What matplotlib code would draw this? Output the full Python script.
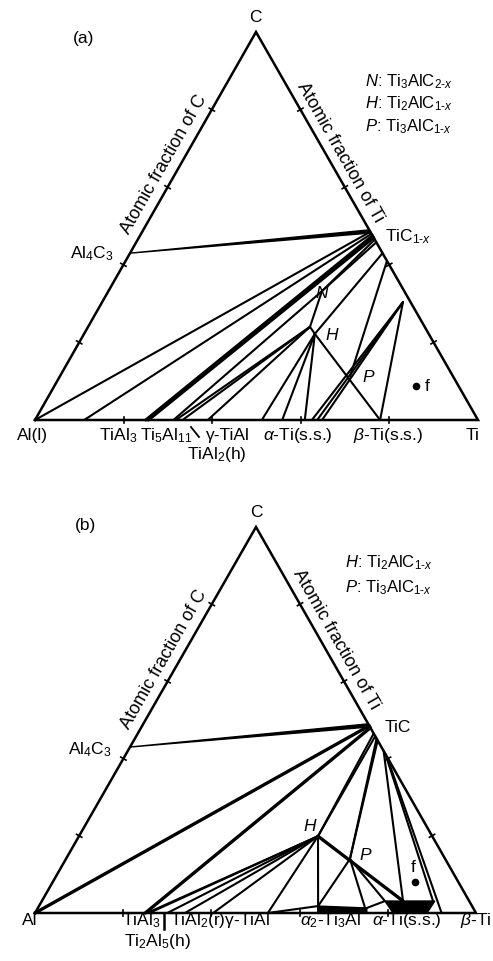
import matplotlib
matplotlib.use("Agg")
import matplotlib.pyplot as plt
from matplotlib.patches import Polygon
import numpy as np

plt.rcParams['font.family'] = ['Liberation Sans', 'DejaVu Sans']
plt.rcParams['mathtext.fontset'] = 'custom'
plt.rcParams['mathtext.rm'] = 'Liberation Sans'
plt.rcParams['mathtext.it'] = 'Liberation Sans:italic'
plt.rcParams['mathtext.bf'] = 'Liberation Sans:bold'

# ---------------- compositions (x_Ti, x_C) ----------------
# panel (a)
a_wedge = [(0.0, 0.43), (0.51, 0.49), (0.518, 0.482)]          # Al4C3 + TiC
a_thin = [
    [(0.0, 0.0), (0.515, 0.485)],
    [(0.111, 0.0), (0.52, 0.48)],
    [(0.3125, 0.0), (0.482, 0.332)],
    [(0.318, 0.0), (0.501, 0.24)],
    [(0.333, 0.0), (0.501, 0.24)],
    [(0.39, 0.0), (0.501, 0.24)],
    [(0.482, 0.332), (0.535, 0.465)],
    [(0.482, 0.332), (0.542, 0.458)],
    [(0.482, 0.332), (0.501, 0.24)],
    [(0.501, 0.24), (0.521, 0.222)],
    [(0.521, 0.222), (0.57, 0.43)],
    [(0.521, 0.222), (0.512, 0.0)],
    [(0.521, 0.222), (0.558, 0.0)],
    [(0.521, 0.222), (0.609, 0.0)],
    [(0.521, 0.222), (0.779, 0.0)],
    [(0.59, 0.41), (0.655, 0.113)],
    [(0.625, 0.0), (0.679, 0.304)],
    [(0.637, 0.0), (0.679, 0.304)],
    [(0.648, 0.0), (0.679, 0.304)],
    [(0.679, 0.304), (0.779, 0.0)],
]
a_thick = [
    [(0.25, 0.0), (0.525, 0.475)],
    [(0.256, 0.0), (0.53, 0.47)],
]
a_point_f = (0.816, 0.088)

# panel (b)
b_wedge = [(0.0, 0.43), (0.51, 0.49), (0.518, 0.482)]
b_thick = [
    [(0.0, 0.0), (0.515, 0.485)],
    [(0.25, 0.0), (0.52, 0.48)],
    [(0.542, 0.199), (0.819, 0.031)],
]
b_thin = [
    [(0.254, 0.0), (0.542, 0.199)],
    [(0.259, 0.0), (0.542, 0.199)],
    [(0.30, 0.0), (0.542, 0.199)],
    [(0.34, 0.0), (0.542, 0.199)],
    [(0.404, 0.0), (0.542, 0.199)],
    [(0.528, 0.0), (0.542, 0.199)],
    [(0.542, 0.199), (0.535, 0.465)],
    [(0.542, 0.199), (0.542, 0.458)],
    [(0.542, 0.199), (0.642, 0.0)],
    [(0.633, 0.018), (0.644, 0.14)],
    [(0.644, 0.14), (0.548, 0.452)],
    [(0.644, 0.14), (0.553, 0.447)],
    [(0.644, 0.14), (0.752, 0.0)],
    [(0.644, 0.14), (0.778, 0.031)],
    [(0.58, 0.42), (0.819, 0.031)],
    [(0.588, 0.412), (0.887, 0.031)],
    [(0.595, 0.405), (0.922, 0.0)],
    [(0.528, 0.0), (0.633, 0.018)],
    [(0.746, 0.013), (0.778, 0.031)],
]
b_alpha2 = [(0.633, 0.018), (0.746, 0.013), (0.752, 0.0), (0.641, 0.0)]
b_alpha = [(0.778, 0.031), (0.891, 0.031), (0.889, 0.0), (0.812, 0.0)]
b_point_f = (0.821, 0.08)

edge_ticks = [0.2, 0.4, 0.6, 0.8]

# ---------------- drawing ----------------
fig = plt.figure(figsize=(4.93, 9.62), dpi=100)
ax = fig.add_axes([0, 0, 1, 1])
ax.set_xlim(0, 493)
ax.set_ylim(962, 0)
ax.axis('off')

# triangle corners (Al, Ti, C) in canvas units
tri_a = np.array([[35, 421], [478, 421], [256, 33]], float)
tri_b = np.array([[35, 914], [476, 914], [256, 528]], float)


def to_xy(tri, comp):
    t, c = comp
    return tri[0] + t * (tri[1] - tri[0]) + c * (tri[2] - tri[0])


def draw_frame(tri):
    poly = np.vstack([tri, tri[:1]])
    ax.plot(poly[:, 0], poly[:, 1], color='black', lw=1.8,
            solid_joinstyle='miter', zorder=3)
    for i in range(3):
        p, q = tri[i], tri[(i + 1) % 3]
        d = (q - p) / np.linalg.norm(q - p)
        n = np.array([-d[1], d[0]])
        for f in edge_ticks:
            m = p + f * (q - p)
            s = np.vstack([m - 3 * n, m + 3 * n])
            ax.plot(s[:, 0], s[:, 1], color='black', lw=1.2, zorder=3)


def draw_segments(tri, segs, lw):
    for a, b in segs:
        p, q = to_xy(tri, a), to_xy(tri, b)
        ax.plot([p[0], q[0]], [p[1], q[1]], color='black', lw=lw,
                solid_capstyle='round', zorder=2)


def draw_fill(tri, pts):
    xy = np.array([to_xy(tri, p) for p in pts])
    ax.add_patch(Polygon(xy, closed=True, facecolor='black',
                         edgecolor='black', lw=1.0, zorder=2))


# panel (a)
draw_frame(tri_a)
draw_fill(tri_a, a_wedge)
draw_segments(tri_a, a_thin, 1.5)
draw_segments(tri_a, a_thick, 2.2)
fx, fy = to_xy(tri_a, a_point_f)
ax.plot(fx, fy, 'o', color='black', ms=4.5, zorder=4)

# panel (b)
draw_frame(tri_b)
draw_fill(tri_b, b_wedge)
draw_segments(tri_b, b_thin, 1.5)
draw_segments(tri_b, b_thick, 2.4)
draw_fill(tri_b, b_alpha2)
draw_fill(tri_b, b_alpha)
fx, fy = to_xy(tri_b, b_point_f)
ax.plot(fx, fy, 'o', color='black', ms=4.5, zorder=4)

# ---------------- text ----------------
fs = 12.5
ang = np.degrees(np.arctan2(388, 221))
sub1x = r'$_{1\text{-}x}$'
sub2x = r'$_{2\text{-}x}$'

# panel (a)
ax.text(84, 38, '(a)', fontsize=fs, ha='center', va='center')
ax.text(255, 18, 'C', fontsize=fs, ha='center', va='center')
ax.text(164, 165, 'Atomic fraction of C', fontsize=13, rotation=ang,
        ha='center', va='center', rotation_mode='anchor')
ax.text(340, 153, 'Atomic fraction of Ti', fontsize=13, rotation=-ang,
        ha='center', va='center', rotation_mode='anchor')
ax.text(365, 82, r'$N$: Ti$_3$AlC' + sub2x, fontsize=12, ha='left', va='center')
ax.text(365, 104, r'$H$: Ti$_2$AlC' + sub1x, fontsize=12, ha='left', va='center')
ax.text(365, 127, r'$P$: Ti$_3$AlC' + sub1x, fontsize=12, ha='left', va='center')
ax.text(92, 254, r'Al$_4$C$_3$', fontsize=fs, ha='center', va='center')
ax.text(385, 237, 'TiC' + sub1x, fontsize=fs, ha='left', va='center')
ax.text(322, 293, r'$N$', fontsize=fs, ha='center', va='center')
ax.text(332, 335, r'$H$', fontsize=fs, ha='center', va='center')
ax.text(369, 377, r'$P$', fontsize=fs, ha='center', va='center')
ax.text(425, 387, 'f', fontsize=fs, ha='left', va='center')
yb = 436
ax.text(32, yb, 'Al(l)', fontsize=fs, ha='center', va='center')
ax.text(118, yb, r'TiAl$_3$', fontsize=fs, ha='center', va='center')
ax.text(166, yb, r'Ti$_5$Al$_{11}$', fontsize=fs, ha='center', va='center')
ax.plot([191, 199], [428, 438], color='black', lw=1.3)
ax.text(228, yb, 'γ-TiAl', fontsize=fs, ha='center', va='center')
ax.text(217, 455, r'TiAl$_2$(h)', fontsize=fs, ha='center', va='center')
ax.text(298, yb, r'$\alpha$-Ti(s.s.)', fontsize=fs, ha='center', va='center')
ax.text(388, yb, r'$\beta$-Ti(s.s.)', fontsize=fs, ha='center', va='center')
ax.text(473, yb, 'Ti', fontsize=fs, ha='center', va='center')

# panel (b)
ax.text(86, 526, '(b)', fontsize=fs, ha='center', va='center')
ax.text(256, 513, 'C', fontsize=fs, ha='center', va='center')
ax.text(164, 660, 'Atomic fraction of C', fontsize=13, rotation=ang,
        ha='center', va='center', rotation_mode='anchor')
ax.text(336, 640, 'Atomic fraction of Ti', fontsize=13, rotation=-ang,
        ha='center', va='center', rotation_mode='anchor')
ax.text(345, 563, r'$H$: Ti$_2$AlC' + sub1x, fontsize=12, ha='left', va='center')
ax.text(345, 588, r'$P$: Ti$_3$AlC' + sub1x, fontsize=12, ha='left', va='center')
ax.text(90, 750, r'Al$_4$C$_3$', fontsize=fs, ha='center', va='center')
ax.text(385, 728, 'TiC', fontsize=fs, ha='left', va='center')
ax.text(310, 826, r'$H$', fontsize=fs, ha='center', va='center')
ax.text(366, 855, r'$P$', fontsize=fs, ha='center', va='center')
ax.text(413, 868, 'f', fontsize=fs, ha='center', va='center')
yb = 921
ax.text(30, yb, 'Al', fontsize=fs, ha='center', va='center')
ax.text(141, yb, r'TiAl$_3$', fontsize=fs, ha='center', va='center')
ax.plot([164, 164], [915, 930], color='black', lw=1.8)
ax.text(170, yb, r'TiAl$_2$(r)γ-TiAl', fontsize=fs, ha='left', va='center')
ax.text(157, 942, r'Ti$_2$Al$_5$(h)', fontsize=fs, ha='center', va='center')
ax.text(331, yb, r'$\alpha_2$-Ti$_3$Al', fontsize=fs, ha='center', va='center')
ax.text(407, yb, r'$\alpha$-Ti(s.s.)', fontsize=fs, ha='center', va='center')
ax.text(476, yb, r'$\beta$-Ti', fontsize=fs, ha='center', va='center')

fig.savefig('out.png', dpi=100)
